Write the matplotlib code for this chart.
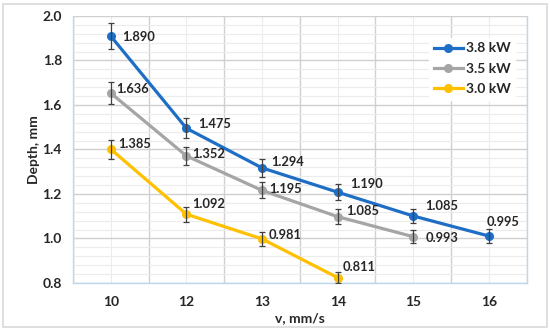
import numpy as np
import matplotlib.pyplot as plt
from matplotlib.ticker import MultipleLocator
from matplotlib.patches import Rectangle

plt.rcParams['font.family'] = ['Lato', 'DejaVu Sans']
plt.rcParams['font.weight'] = 'bold'

# Dados
v_labels = ['10', '12', '13', '14', '15', '16']
series_names = ['3.8 kW', '3.5 kW', '3.0 kW']

depth_38 = [1.909, 1.495, 1.317, 1.208, 1.101, 1.011]
depth_35 = [1.653, 1.371, 1.216, 1.098, 1.008]
depth_30 = [1.401, 1.109, 0.998, 0.824]

err_38 = [0.057, 0.045, 0.040, 0.036, 0.033, 0.030]
err_35 = [0.050, 0.041, 0.036, 0.033, 0.030]
err_30 = [0.042, 0.033, 0.030, 0.025]

text_38 = ['1.890', '1.475', '1.294', '1.190', '1.085', '0.995']
text_35 = ['1.636', '1.352', '1.195', '1.085', '0.993']
text_30 = ['1.385', '1.092', '0.981', '0.811']

# Deslocamento dos rótulos (pixels)
off_38 = [(11, -1), (12, 4), (9, 6), (12, 8), (12, 10), (-2, 14)]
off_35 = [(5, 4), (6, 2), (7, 1), (8, 6), (12, -1)]
off_30 = [(7, 5), (6, 10), (7, 4), (5, 11)]

colors = ['#1F6EC6', '#A5A5A5', '#FFC000']

fig = plt.figure(figsize=(5.5, 3.31), dpi=100)
ax = fig.add_axes([0.1327, 0.145, 0.825, 0.807])

fig.patches.append(Rectangle((0.006, 0.012), 0.988, 0.976, transform=fig.transFigure,
                             fill=False, edgecolor='#D9D9D9', lw=1.2))

data = [(depth_38, err_38, text_38, off_38),
        (depth_35, err_35, text_35, off_35),
        (depth_30, err_30, text_30, off_30)]

for k, (y, e, t, off) in enumerate(data):
    x = np.arange(len(y))
    ax.plot(x, y, '-o', color=colors[k], lw=2.3, ms=5.5, label=series_names[k],
            zorder=5 - k)
    ax.errorbar(x, y, yerr=e, fmt='none', ecolor='#404040', elinewidth=0.9,
                capsize=2.2, capthick=0.9, zorder=6)
    for i in range(len(y)):
        ax.annotate(t[i], (x[i], y[i]), xytext=off[i], textcoords='offset pixels',
                    ha='left', va='center', fontsize=9.3, fontweight='bold',
                    color='#262626', zorder=7)

ax.set_xlim(-0.5, 5.5)
ax.set_ylim(0.8, 2.0)
ax.set_xticks(np.arange(len(v_labels)))
ax.set_xticklabels(v_labels)
ax.yaxis.set_major_locator(MultipleLocator(0.2))
ax.yaxis.set_minor_locator(MultipleLocator(0.04))
ax.yaxis.set_major_formatter(plt.FormatStrFormatter('%.1f'))
ax.set_xticks(np.arange(-0.5, 6, 1.0), minor=True)

# Grades: verticais nas fronteiras e nas categorias
ax.grid(which='major', axis='y', color='#D0D0D0', lw=1.0)
ax.grid(which='minor', axis='y', color='#ECECEC', lw=0.8)
ax.grid(which='minor', axis='x', color='#D0D0D0', lw=1.0)
ax.grid(which='major', axis='x', color='#ECECEC', lw=0.8)
ax.set_axisbelow(True)

ax.tick_params(which='both', length=0, labelsize=10, colors='#262626')
ax.tick_params(axis='y', pad=8)
ax.tick_params(axis='x', pad=9)

for s in ['left', 'bottom', 'right']:
    ax.spines[s].set_color('#BDD7EE')
    ax.spines[s].set_linewidth(1.0)
ax.spines['top'].set_visible(False)

ax.set_xlabel('v, mm/s', fontsize=10, fontweight='bold', color='#262626', labelpad=3)
ax.set_ylabel('Depth, mm', fontsize=10, fontweight='bold', color='#262626', labelpad=2)

leg = ax.legend(loc='upper right', bbox_to_anchor=(0.99, 0.945), frameon=True,
                fancybox=False, edgecolor='white', framealpha=1, fontsize=10,
                handlelength=2.1, handletextpad=0.2, labelspacing=0.6,
                borderpad=0.35)
for txt in leg.get_texts():
    txt.set_fontweight('bold')
    txt.set_color('#262626')

fig.savefig('out.png', dpi=100)
